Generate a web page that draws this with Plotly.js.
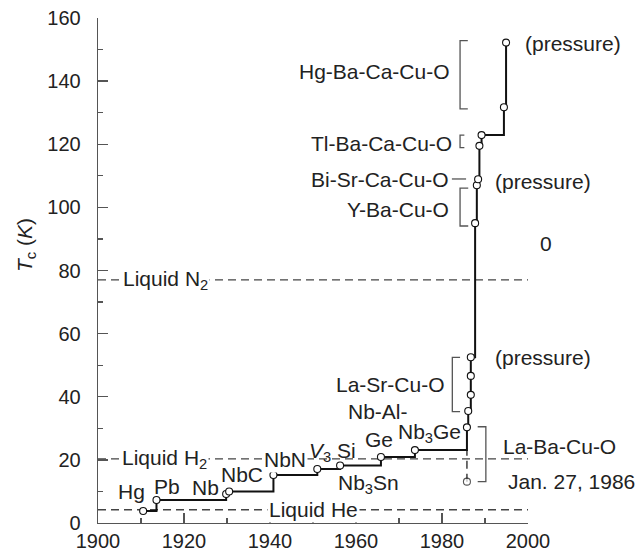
<!DOCTYPE html>
<html>
<head>
<meta charset="utf-8">
<script src="https://cdn.plot.ly/plotly-3.0.1.min.js"></script>
<style>html,body{margin:0;padding:0;background:#fff}#chart{width:641px;height:554px}</style>
</head>
<body>
<div id="chart"></div>
<script>
// Record Tc progression (year, K)
var years = [1910.5, 1913.6, 1929.8, 1930.5, 1940.8, 1951.0, 1956.3, 1965.8, 1973.7,
             1985.8, 1986.1, 1986.7, 1986.7, 1986.7, 1987.7, 1988.1, 1988.4, 1988.7, 1989.2, 1994.4, 1994.9];
var tc    = [3.8, 7.3, 9.2, 10.0, 15.2, 17.1, 18.2, 20.9, 23.1,
             30.3, 35.5, 40.6, 46.6, 52.5, 95.0, 107.0, 108.9, 119.5, 122.9, 131.7, 152.2];
// La-Ba-Cu-O first report (Jan. 27, 1986)
var lbcoYear = [1985.8, 1985.8];
var lbcoTc   = [13.1, 23.1];
// Coolant boiling points
var coolNames = ['Liquid N<sub>2</sub>', 'Liquid H<sub>2</sub>', 'Liquid He'];
var coolTc    = [77.0, 20.3, 4.2];
var xRange = [1900, 2000];
var yRange = [0, 160];

var txt = '#222';
var fnt = {family: 'Liberation Sans, Arial, sans-serif', size: 21, color: txt};

var traces = [];
coolTc.forEach(function(v){
  traces.push({x: xRange, y: [v, v], mode: 'lines', hoverinfo: 'skip',
    line: {color: '#444', width: 1.3, dash: '8px,5px'}});
});
traces.push({x: lbcoYear, y: lbcoTc, mode: 'lines+markers', hoverinfo: 'skip',
  line: {color: '#222', width: 1.3, dash: '8px,5px'},
  marker: {symbol: 'circle', size: [7, 0], color: '#fff', line: {color: '#111', width: 1.1}}});
traces.push({x: years, y: tc, mode: 'lines+markers', line: {shape: 'hv', color: '#111', width: 2},
  marker: {symbol: 'circle', size: 7, color: '#fff', line: {color: '#111', width: 1.1}}});

// x given in years; converted to paper fraction so labels outside the axis range still show
function px(yr){ return (yr - xRange[0]) / (xRange[1] - xRange[0]); }
function ann(x, y, text, opts){
  var a = {x: px(x), y: y, xref: 'paper', yref: 'y', text: text, showarrow: false, font: fnt,
           xanchor: 'center', yanchor: 'middle'};
  for (var k in opts) a[k] = opts[k];
  return a;
}
var annotations = [
  ann(1907.8, 9.9, 'Hg'),
  ann(1916.0, 11.5, 'Pb'),
  ann(1925.1, 11.1, 'Nb'),
  ann(1933.4, 15.4, 'NbC'),
  ann(1943.5, 20.0, 'NbN', {bgcolor: '#fff'}),
  ann(1954.5, 22.5, '<i>V</i><sub>3</sub> Si'),
  ann(1962.9, 12.4, 'Nb<sub>3</sub>Sn'),
  ann(1965.2, 35.3, 'Nb-Al-'),
  ann(1965.3, 26.3, 'Ge'),
  ann(1977.2, 28.4, 'Nb<sub>3</sub>Ge'),
  ann(1968.1, 44.0, 'La-Sr-Cu-O'),
  ann(2007.4, 24.2, 'La-Ba-Cu-O'),
  ann(2010.2, 13.1, 'Jan. 27, 1986'),
  ann(2003.4, 52.5, '(pressure)'),
  ann(2010.5, 152.0, '(pressure)'),
  ann(1964.2, 143.0, 'Hg-Ba-Ca-Cu-O'),
  ann(1966.0, 120.3, 'Tl-Ba-Ca-Cu-O'),
  ann(1982.0, 108.7, 'Bi-Sr-Ca-Cu-O', {xanchor: 'right'}),
  ann(2003.6, 108.1, '(pressure)'),
  ann(1969.8, 99.4, 'Y-Ba-Cu-O'),
  ann(2004.2, 88.6, '0'),
  ann(1905.4, coolTc[0], coolNames[0], {xanchor: 'left', bgcolor: '#fff'}),
  ann(1905.0, coolTc[1], coolNames[1], {xanchor: 'left', bgcolor: '#fff'}),
  ann(1950.2, coolTc[2], coolNames[2], {bgcolor: '#fff'}),
  {xref: 'paper', yref: 'y', x: -0.168, y: 88.0, text: '<i>T</i><sub>c</sub> (<i>K</i>)',
   textangle: -90, showarrow: false, font: fnt, xanchor: 'center', yanchor: 'middle'}
];

function bracket(x, y0, y1, xt){
  return {type: 'path', xref: 'x', yref: 'y',
    path: 'M' + xt + ',' + y0 + ' L' + x + ',' + y0 + ' L' + x + ',' + y1 + ' L' + xt + ',' + y1,
    line: {color: '#555', width: 1.3}};
}
var shapes = [
  bracket(1984.2, 152.8, 131.2, 1986.0),
  bracket(1984.2, 122.9, 118.9, 1985.2),
  bracket(1984.2, 106.1, 94.1, 1986.1),
  bracket(1982.4, 52.5, 35.3, 1984.2),
  bracket(1990.2, 30.5, 13.1, 1988.3),
  {type: 'line', xref: 'x', yref: 'y', x0: 1982.3, x1: 1985.6, y0: 109.0, y1: 109.0,
   line: {color: '#555', width: 1.3}}
];

var axisCommon = {showgrid: false, zeroline: false, showline: true, linecolor: '#555', linewidth: 1.3,
  ticks: 'inside', ticklen: 10, tickwidth: 1.3, tickcolor: '#555',
  tickfont: {family: 'Liberation Sans, Arial, sans-serif', size: 20, color: txt},
  minor: {ticks: 'inside', ticklen: 5, tickwidth: 1.3, tickcolor: '#555', dtick: 10}};

var layout = {
  width: 641, height: 554, showlegend: false,
  margin: {l: 98, r: 113, t: 18, b: 31},
  paper_bgcolor: '#fff', plot_bgcolor: '#fff',
  xaxis: Object.assign({}, axisCommon, {range: xRange, dtick: 20, tick0: 1900, ticklabelstandoff: 0}),
  yaxis: Object.assign({}, axisCommon, {range: yRange, dtick: 20, tick0: 0, ticklabelstandoff: 12}),
  annotations: annotations,
  shapes: shapes
};
traces.forEach(function(t){ t.cliponaxis = false; });
Plotly.newPlot('chart', traces, layout, {displayModeBar: false, staticPlot: true});
</script>
</body>
</html>
